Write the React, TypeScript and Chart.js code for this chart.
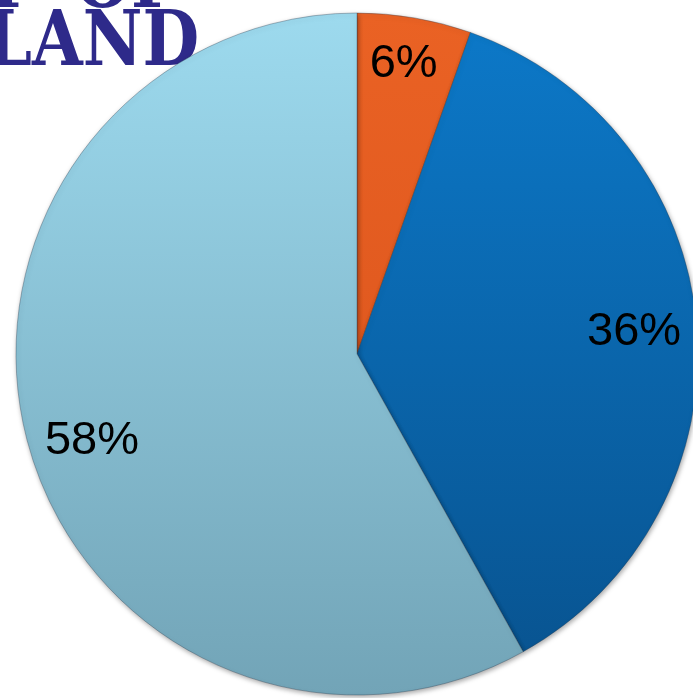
import React, { useEffect, useRef } from "react";
import { Chart, registerables } from "chart.js";

Chart.register(...registerables);

const categories = ["Category A", "Category B", "Category C"];
const values = [5.4, 36.5, 58.1];
const valueLabels = ["6%", "36%", "58%"];

const gradientStops: [string, string][] = [
  ["#EA6224", "#D6501A"],
  ["#0C79C9", "#08528E"],
  ["#9DDAEE", "#72A4B7"],
];
const labelRadius = [0.862, 0.815, 0.818];
const labelAngleShift = [-0.6, 0.4, -3.6];

const shadowPlugin = {
  id: "sliceShadow",
  beforeDatasetsDraw(chart: any) {
    const ctx = chart.ctx;
    ctx.save();
    ctx.shadowColor = "rgba(0,0,0,0.35)";
    ctx.shadowBlur = 5;
    ctx.shadowOffsetX = 1;
    ctx.shadowOffsetY = 2;
  },
  afterDatasetsDraw(chart: any) {
    chart.ctx.restore();
  },
};

const labelPlugin = {
  id: "sliceLabels",
  afterDatasetsDraw(chart: any) {
    const meta = chart.getDatasetMeta(0);
    const ctx = chart.ctx;
    ctx.save();
    ctx.shadowColor = "transparent";
    ctx.font = '47px "Liberation Sans", Arial, sans-serif';
    ctx.fillStyle = "#000000";
    ctx.textAlign = "center";
    ctx.textBaseline = "middle";
    meta.data.forEach((arc: any, i: number) => {
      const mid = (arc.startAngle + arc.endAngle) / 2 + (labelAngleShift[i] * Math.PI) / 180;
      const r = arc.outerRadius * labelRadius[i];
      ctx.fillText(valueLabels[i], arc.x + Math.cos(mid) * r, arc.y + Math.sin(mid) * r);
    });
    ctx.restore();
  },
};

export default function App() {
  const ref = useRef<HTMLCanvasElement | null>(null);
  useEffect(() => {
    if (!ref.current) return;
    const chart = new Chart(ref.current, {
      type: "pie",
      data: {
        labels: categories,
        datasets: [
          {
            data: values,
            backgroundColor: (c: any) => {
              const area = c.chart.chartArea;
              const stops = gradientStops[c.dataIndex % gradientStops.length];
              if (!area) return stops[0];
              const g = c.chart.ctx.createLinearGradient(0, area.top, 0, area.bottom);
              g.addColorStop(0, stops[0]);
              g.addColorStop(1, stops[1]);
              return g;
            },
            borderColor: "rgba(40,60,80,0.35)",
            borderWidth: 1,
          },
        ],
      },
      options: {
        responsive: false,
        animation: false,
        layout: { padding: { top: 12.5, bottom: 12.5, left: 15.5, right: 17.5 } },
        plugins: { legend: { display: false }, tooltip: { enabled: false } },
      },
      plugins: [shadowPlugin, labelPlugin],
    });
    return () => chart.destroy();
  }, []);

  const logoStyle: React.CSSProperties = {
    position: "absolute",
    fontFamily: '"DejaVu Serif", serif',
    fontWeight: "bold",
    fontSize: 76,
    lineHeight: "76px",
    color: "#2E2A8A",
    whiteSpace: "pre",
    transform: "scaleX(0.86)",
    transformOrigin: "left top",
  };

  return (
    <div style={{ position: "fixed", inset: 0, overflow: "hidden", background: "#ffffff" }}>
      <div style={{ ...logoStyle, left: -18, top: -57 }}>{"Y  OF"}</div>
      <div style={{ ...logoStyle, left: -14, top: 1 }}>{"LAND"}</div>
      <canvas ref={ref} width={716} height={708} style={{ position: "absolute", left: 0, top: 0 }} />
    </div>
  );
}
